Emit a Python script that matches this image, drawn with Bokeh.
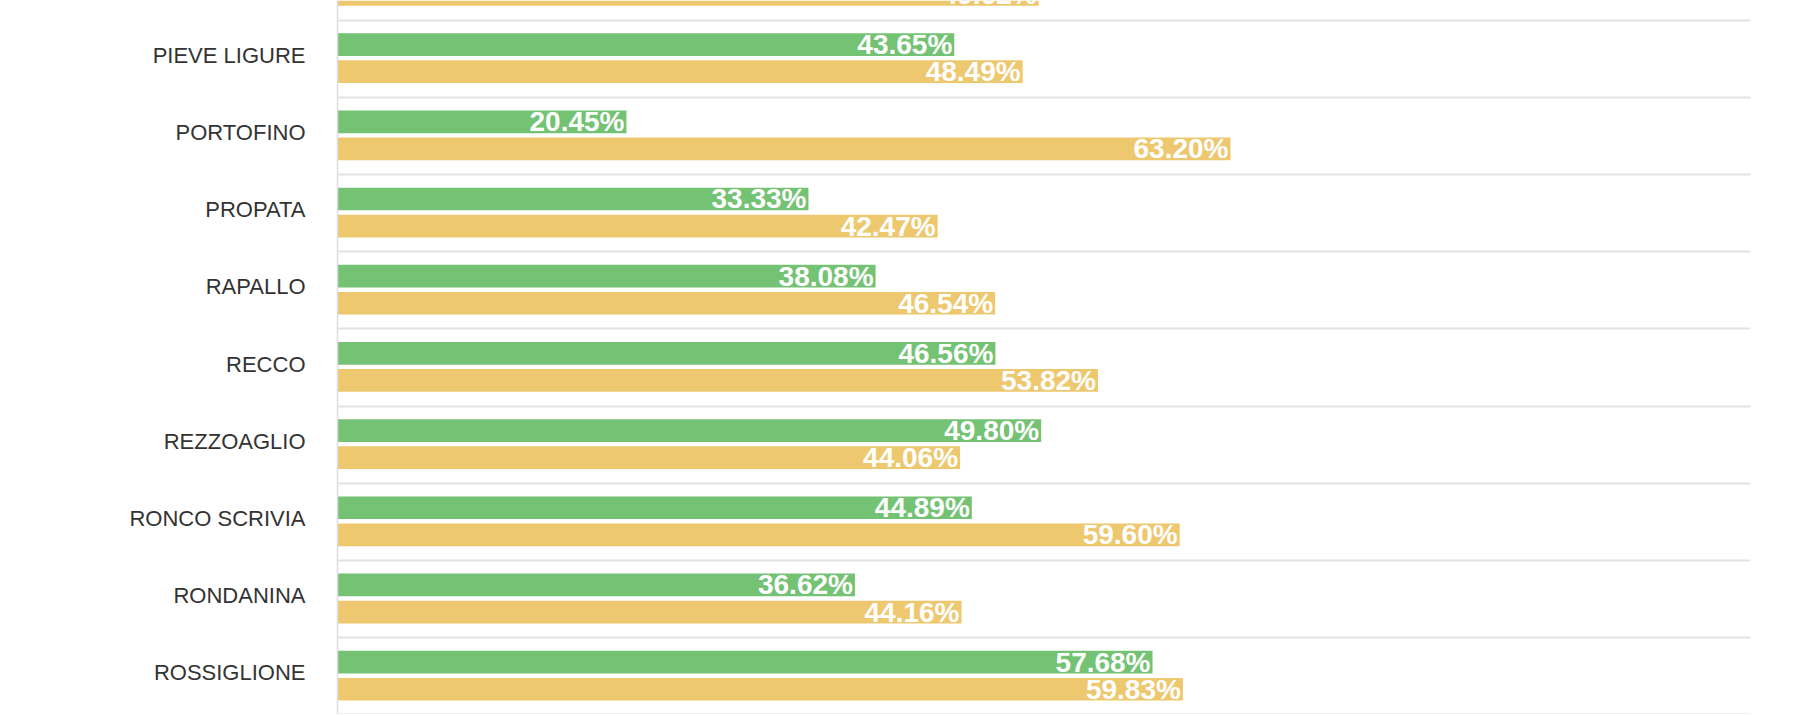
import math
from bokeh.plotting import figure
from bokeh.models import Range1d, FixedTicker, ColumnDataSource
from bokeh.core.properties import value
from bokeh.embed import file_html
from bokeh.resources import INLINE

# ---- data ----
# first category is only partly visible at the top edge (its green value is not visible)
categories = ["ORERO", "PIEVE LIGURE", "PORTOFINO", "PROPATA", "RAPALLO", "RECCO",
              "REZZOAGLIO", "RONCO SCRIVIA", "RONDANINA", "ROSSIGLIONE"]
green_values = [float("nan"), 43.65, 20.45, 33.33, 38.08, 46.56, 49.80, 44.89, 36.62, 57.68]
yellow_values = [49.62, 48.49, 63.20, 42.47, 46.54, 53.82, 44.06, 59.60, 44.16, 59.83]

# ---- style ----
GREEN = "#74C274"
YELLOW = "#EDC86F"
BAR_H = 0.294
GREEN_OFF = -0.184
YELLOW_OFF = 0.167
LABEL_SHIFT = -0.045
FONT = "Liberation Sans"


def fmt(v):
    return "" if math.isnan(v) else f"{v:.2f}%"


idx = list(range(len(categories)))
src = ColumnDataSource(dict(
    y_green=[i + GREEN_OFF for i in idx],
    y_yellow=[i + YELLOW_OFF for i in idx],
    green=green_values,
    yellow=yellow_values,
    green_label=[fmt(v) for v in green_values],
    yellow_label=[fmt(v) for v in yellow_values],
))

p = figure(width=1762, height=714,
           x_range=Range1d(0, 100), y_range=Range1d(9.494, 0.245),
           output_backend="svg", toolbar_location=None,
           min_border_left=337, min_border_right=12,
           min_border_top=0, min_border_bottom=0)
p.outline_line_color = None
p.background_fill_color = "white"

p.xaxis.visible = False
p.xgrid.visible = False

p.ygrid.ticker = FixedTicker(ticks=[i - 0.5 for i in range(len(categories) + 1)])
p.ygrid.grid_line_color = "#e2e2e2"
p.ygrid.grid_line_width = 2

tick_pos = [i + LABEL_SHIFT for i in idx]
yax = p.yaxis[0]
yax.ticker = FixedTicker(ticks=tick_pos)
yax.major_label_overrides = {t: c for t, c in zip(tick_pos, categories)}
yax.major_tick_in = 0
yax.major_tick_out = 0
yax.minor_tick_in = 0
yax.minor_tick_out = 0
yax.major_label_standoff = 32
yax.axis_line_color = "#dddddd"
yax.axis_line_width = 1.5
yax.major_label_text_font = FONT
yax.major_label_text_font_size = "22px"
yax.major_label_text_color = "#333333"

p.hbar(y="y_green", left=0, right="green", height=BAR_H, source=src,
       fill_color=GREEN, line_color=None)
p.hbar(y="y_yellow", left=0, right="yellow", height=BAR_H, source=src,
       fill_color=YELLOW, line_color=None)

for xcol, ycol, tcol in [("green", "y_green", "green_label"),
                         ("yellow", "y_yellow", "yellow_label")]:
    p.text(x=xcol, y=ycol, text=tcol, source=src,
           text_align="right", text_baseline="middle",
           x_offset=-2, y_offset=0,
           text_color="white", text_font=value(FONT),
           text_font_style="bold", text_font_size="28px")

open("out.html", "w").write(file_html(p, INLINE))
